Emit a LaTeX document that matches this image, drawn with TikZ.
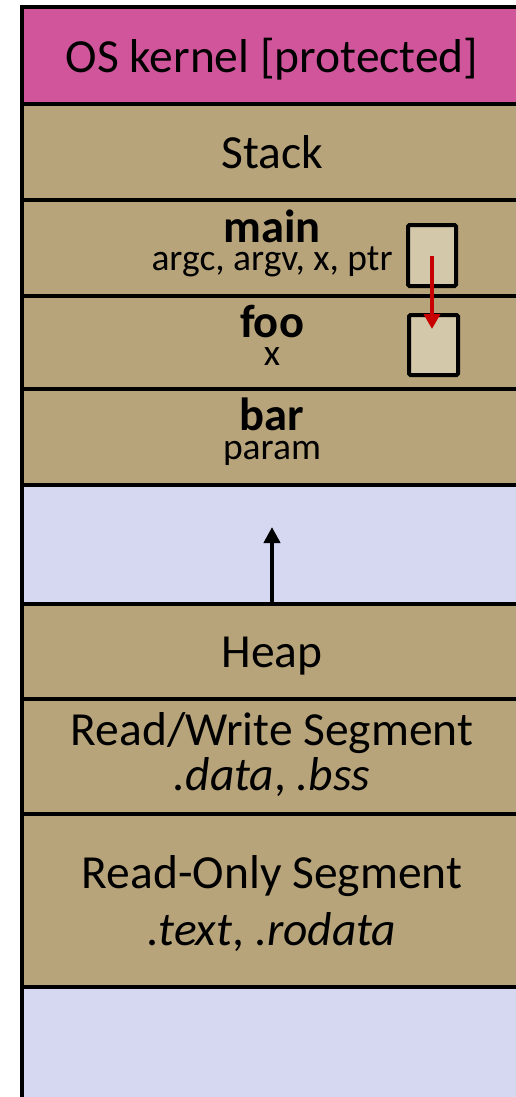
\documentclass[tikz,border=0pt]{standalone}
\usepackage{fontspec}
\setmainfont{Carlito}
\usetikzlibrary{arrows.meta}
\definecolor{kernelpink}{RGB}{208,85,155}
\definecolor{segtan}{RGB}{183,164,122}
\definecolor{freelav}{RGB}{214,216,242}
\definecolor{slotfill}{RGB}{211,200,170}
\definecolor{ptrred}{RGB}{200,0,0}
\begin{document}
\begin{tikzpicture}[x=1pt,y=-1pt,
  band/.style={draw=black, line width=4pt, rectangle, inner sep=0pt, outer sep=0pt,
               anchor=north west, minimum width=520pt},
  seg/.style={band, fill=segtan},
  free/.style={band, fill=freelav},
  bigtxt/.style={font=\fontsize{47.5}{56}\selectfont, anchor=base, inner sep=0pt},
  boldtxt/.style={font=\fontsize{46.5}{55}\selectfont\bfseries, anchor=base, inner sep=0pt},
  smalltxt/.style={font=\fontsize{37.5}{43}\selectfont, anchor=base, inner sep=0pt},
  slot/.style={draw=black, line width=4pt, fill=slotfill, rectangle, rounded corners=1.5pt, inner sep=0pt},
  ptrarrow/.style={draw=ptrred, line width=4.5pt, -{Triangle[width=16pt,length=15pt]}},
  growarrow/.style={draw=black, line width=4.5pt, -{Triangle[width=16pt,length=16pt]}}
]
\useasboundingbox (0,0) rectangle (516,1097);
\clip (0,0) rectangle (516,1097);
\fill[white] (0,0) rectangle (516,1097);

\node[band, fill=kernelpink, minimum height=97pt] (kernel) at (22,7) {};
\node[seg, minimum height=95.5pt] (stack) at (22,104) {};
\node[seg, minimum height=96pt] (main) at (22,199.5) {};
\node[seg, minimum height=93.5pt] (foo) at (22,295.5) {};
\node[seg, minimum height=96pt] (bar) at (22,389) {};
\node[free, minimum height=118.5pt] (gap1) at (22,485) {};
\node[seg, minimum height=95pt] (heap) at (22,603.5) {};
\node[seg, minimum height=115pt] (rw) at (22,698.5) {};
\node[seg, minimum height=173pt] (ro) at (22,813.5) {};
\node[free, minimum height=130pt] (gap2) at (22,986.5) {};

\node[bigtxt] (kerneltxt) at (272,73) {OS kernel [protected]};
\node[bigtxt] (stacktxt) at (272,168) {Stack};
\node[boldtxt] (maintxt) at (272,242) {main};
\node[smalltxt] (mainvars) at (272,270) {argc, argv, x, ptr};
\node[boldtxt] (footxt) at (272,337) {foo};
\node[smalltxt] (foovars) at (272,365) {x};
\node[boldtxt] (bartxt) at (272,430) {bar};
\node[smalltxt] (barvars) at (272,459) {param};
\node[bigtxt] (heaptxt) at (272,667) {Heap};
\node[bigtxt] (rwtxt) at (272,745) {Read/Write Segment};
\node[bigtxt] (rwsub) at (272,790) {\textit{.data}, \textit{.bss}};
\node[bigtxt] (rotxt) at (272,888) {Read-Only Segment};
\node[bigtxt] (rosub) at (272,945) {\textit{.text}, \textit{.rodata}};

\node[slot, minimum width=48pt, minimum height=61pt] (ptrslot) at (432,255.5) {};
\node[slot, minimum width=49pt, minimum height=60pt] (xslot) at (433.5,345) {};

\coordinate (ptrtip) at (432,329);
\draw[ptrarrow] (ptrslot.center) -- (ptrtip);

\coordinate (growtip) at (272,527);
\draw[growarrow] (heap.north -| growtip) -- (growtip);
\end{tikzpicture}
\end{document}
